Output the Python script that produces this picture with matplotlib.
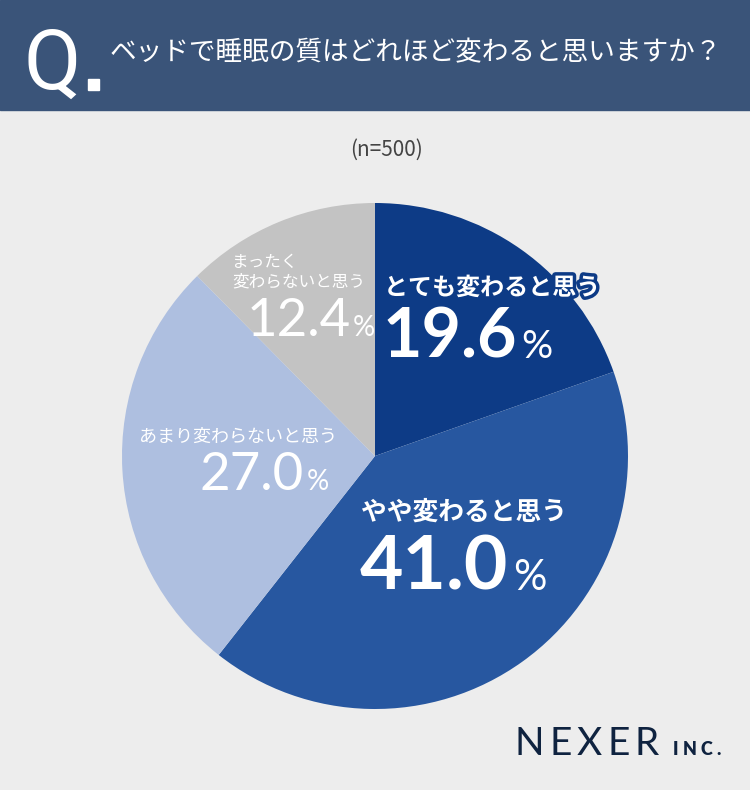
import matplotlib
matplotlib.use("Agg")
import matplotlib.pyplot as plt
import matplotlib.patheffects as pe
from matplotlib.patches import Rectangle

# ---- data ----
categories = ["とても変わると思う", "やや変わると思う", "あまり変わらないと思う", "まったく変わらないと思う"]
values = [19.6, 41.0, 27.0, 12.4]
colors = ["#0D3B86", "#2757A0", "#AEBFE0", "#C3C3C3"]
title = "ベッドで睡眠の質はどれほど変わると思いますか？"
sample_note = "(n=500)"

JP = ["Noto Sans CJK JP", "DejaVu Sans"]
NUM = ["Lato", "DejaVu Sans"]

W, H = 750, 790
fig = plt.figure(figsize=(W / 100, H / 100), dpi=100)
fig.patch.set_facecolor("#EDEDED")

ov = fig.add_axes([0, 0, 1, 1])
ov.set_xlim(0, W)
ov.set_ylim(H, 0)
ov.axis("off")
ov.add_patch(Rectangle((0, 0), W, 110, color="#3A5479", zorder=0))

# pie axes: center (375, 456), radius 253 px
cx, cy, r = 375, 456, 253
pax = fig.add_axes([(cx - r) / W, (H - cy - r) / H, 2 * r / W, 2 * r / H])
pax.pie(values, colors=colors, startangle=90, counterclock=False,
        radius=1, wedgeprops=dict(linewidth=0))
pax.set_xlim(-1, 1)
pax.set_ylim(-1, 1)
pax.set_aspect("auto")
pax.axis("off")

tx = fig.add_axes([0, 0, 1, 1])
tx.set_xlim(0, W)
tx.set_ylim(H, 0)
tx.axis("off")
tx.patch.set_alpha(0)

# header
tx.text(24, 89, "Q", color="white", fontsize=60,
        family=["Roboto", "DejaVu Sans"], ha="left", va="baseline")
tx.add_patch(Rectangle((88, 79), 11, 11, color="white"))
tx.text(110, 53, title, color="white", fontsize=19.2, family=JP,
        ha="left", va="center")

tx.text(386, 150, sample_note, color="#444444", fontsize=15, family=JP,
        ha="center", va="center")

fig.canvas.draw()
renderer = fig.canvas.get_renderer()
inv = tx.transData.inverted()


def x_end_of(t):
    bb = t.get_window_extent(renderer=renderer)
    return inv.transform((bb.x1, 0))[0]


def number_with_pct(x, y, num, size, pct_size, gap, bold):
    t = tx.text(x, y, num, color="white", fontsize=size,
                fontweight="bold" if bold else "normal",
                family=NUM, ha="left", va="baseline")
    tx.text(x_end_of(t) + gap, y, "%", color="white", fontsize=pct_size,
            fontweight="normal", family=NUM, ha="left", va="baseline")


def spaced(x, y, s, spacing, **kw):
    for ch in s:
        t = tx.text(x, y, ch, ha="left", va="baseline", **kw)
        x = x_end_of(t) + spacing


# labels
tx.text(384, 288, categories[0], color="white", fontsize=17.3, fontweight="bold",
        family=JP, ha="left", va="center",
        path_effects=[pe.withStroke(linewidth=5, foreground=colors[0])])
number_with_pct(383, 358, "19.6", 49, 28, 4, True)

tx.text(361, 512, categories[1], color="white", fontsize=18.5, fontweight="bold",
        family=JP, ha="left", va="center")
number_with_pct(360, 590, "41.0", 54, 30, 5, True)

tx.text(139, 437, categories[2], color="white", fontsize=13, family=JP,
        ha="left", va="center")
number_with_pct(200, 490, "27.0", 38, 20, 2, False)

tx.text(232, 262, "まったく", color="white", fontsize=12, family=JP,
        ha="left", va="center")
tx.text(232, 282, "変わらないと思う", color="white", fontsize=12, family=JP,
        ha="left", va="center")
number_with_pct(247, 336, "12.4", 38, 20, 1, False)

# logo
spaced(515, 755, "NEXER", 5, color="#0F2340", fontsize=28,
       family=["Lato", "DejaVu Sans"])
spaced(673, 755, "INC.", 4, color="#0F2340", fontsize=13, fontweight="heavy",
       family=["Lato", "DejaVu Sans"])

fig.savefig("out.png", dpi=100, facecolor=fig.get_facecolor())
